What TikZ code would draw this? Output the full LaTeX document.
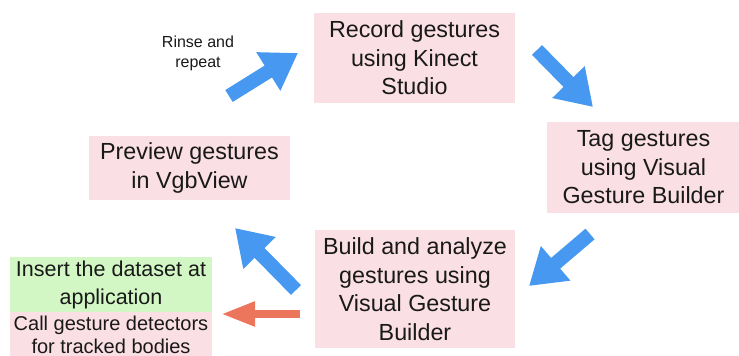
\documentclass[tikz,border=0pt]{standalone}
\usepackage{fontspec}
\setmainfont{Liberation Sans}
\usetikzlibrary{arrows.meta}
\definecolor{boxpink}{RGB}{250,223,228}
\definecolor{boxgreen}{RGB}{210,246,196}
\definecolor{arrblue}{RGB}{70,152,240}
\definecolor{arrorange}{RGB}{236,118,92}
\tikzset{
  stepbox/.style={fill=boxpink, draw=none, inner sep=0pt, align=center,
    font=\fontsize{23.3}{28.5}\selectfont, text=black!90},
  greenbox/.style={stepbox, fill=boxgreen, font=\fontsize{21.5}{28}\selectfont},
  calltext/.style={inner sep=0pt, align=center, text=black!90,
    font=\fontsize{20}{22.5}\selectfont},
  bluearrow/.style={draw=arrblue, line width=14pt,
    -{Triangle[width=43pt,length=35pt]}},
  orangearrow/.style={draw=arrorange, line width=8pt,
    -{Triangle[width=23pt,length=34pt]}},
  smalltext/.style={align=center, inner sep=0pt, text=black!90,
    font=\fontsize{16}{20}\selectfont}
}
\begin{document}
\begin{tikzpicture}[x=1pt,y=-1pt]
\useasboundingbox (0,0) rectangle (739,356);
\clip (0,0) rectangle (739,356);
\node[stepbox, minimum width=201pt, minimum height=90pt] (rec) at (414.5,58) {Record gestures\\using Kinect\\Studio};
\node[stepbox, minimum width=193pt, minimum height=91pt] (tag) at (643.5,167.5) {Tag gestures\\using Visual\\Gesture Builder};
\node[stepbox, minimum width=201pt, minimum height=64pt] (prev) at (189.5,168) {Preview gestures\\in VgbView};
\node[stepbox, minimum width=200pt, minimum height=118pt] (build) at (415,289) {Build and analyze\\gestures using\\Visual Gesture\\Builder};
\node[greenbox, minimum width=202pt, minimum height=55pt] (ins) at (111,284.5) {Insert the dataset at\\application};
\fill[boxpink] (10,312) rectangle (212,356);
\node[calltext, anchor=north] (call) at (111,316) {Call gesture detectors\\for tracked bodies};
\node[smalltext] (rinse) at (198,53) {Rinse and\\repeat};
\coordinate (r1) at (229,96);  \coordinate (r2) at (298,53);
\coordinate (a1) at (537,50);  \coordinate (a2) at (593,107);
\coordinate (b1) at (590,234); \coordinate (b2) at (529,286);
\coordinate (c1) at (296,290); \coordinate (c2) at (235,228);
\coordinate (o1) at (300,314); \coordinate (o2) at (221,314);
\draw[bluearrow] (r1) -- (r2);
\draw[bluearrow] (a1) -- (a2);
\draw[bluearrow] (b1) -- (b2);
\draw[bluearrow] (c1) -- (c2);
\draw[orangearrow] (o1) -- (o2);
\end{tikzpicture}
\end{document}
